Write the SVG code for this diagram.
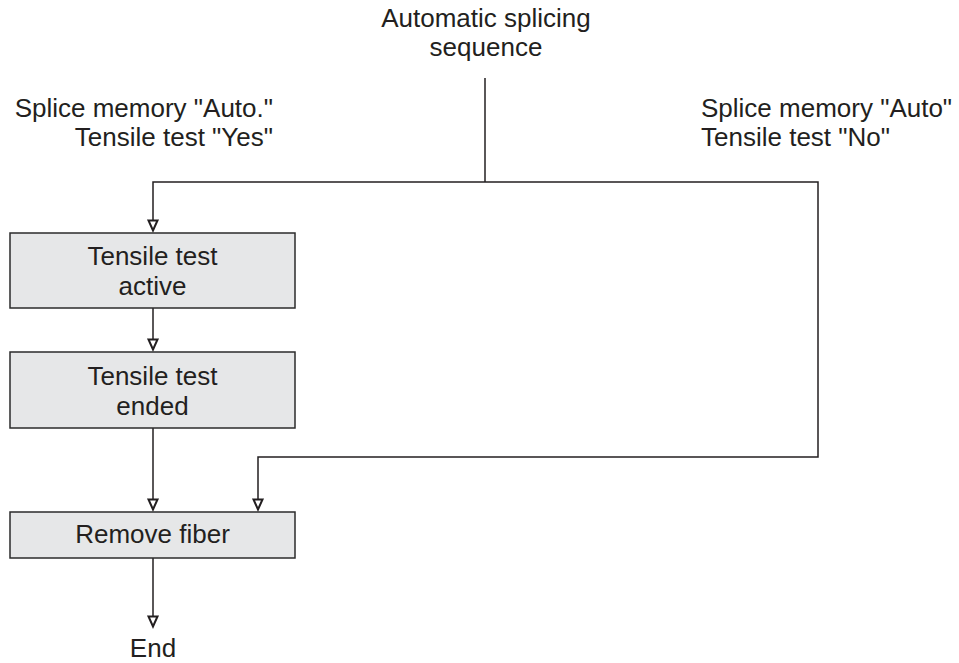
<svg xmlns="http://www.w3.org/2000/svg" width="959" height="663" viewBox="0 0 959 663">
<style>
text{font-family:"Liberation Sans",Arial,Helvetica,sans-serif;font-size:26px;fill:#231f20}
.c{text-anchor:middle}
.box{fill:#e6e7e8;stroke:#2b2b2b;stroke-width:1.5}
.ln{fill:none;stroke:#231f20;stroke-width:1.5}
.ah{fill:#fff;stroke:#231f20;stroke-width:2;stroke-linejoin:miter}
</style>
<rect width="959" height="663" fill="#fff"/>
<g id="labels">
<text class="c" x="486" y="27">Automatic splicing</text>
<text class="c" x="486" y="56">sequence</text>
<text x="273" y="117" text-anchor="end">Splice memory "Auto."</text>
<text x="273" y="146" text-anchor="end">Tensile test "Yes"</text>
<text x="701" y="117">Splice memory "Auto"</text>
<text x="701" y="146">Tensile test "No"</text>
</g>
<g id="connectors">
<polyline class="ln" points="485,78 485,182"/>
<polyline class="ln" points="153,221 153,182 818,182 818,457 258,457 258,499"/>
<line class="ln" x1="153" y1="308" x2="153" y2="340"/>
<line class="ln" x1="153" y1="428" x2="153" y2="499"/>
<line class="ln" x1="153" y1="558" x2="153" y2="616"/>
<polygon class="ah" points="148.5,220.5 157.5,220.5 153,230.5"/>
<polygon class="ah" points="148.5,339.5 157.5,339.5 153,349.5"/>
<polygon class="ah" points="148.5,499.5 157.5,499.5 153,509.5"/>
<polygon class="ah" points="253.5,499.5 262.5,499.5 258,509.5"/>
<polygon class="ah" points="148.5,616.5 157.5,616.5 153,626.5"/>
</g>
<g id="n1">
<rect class="box" x="10" y="233" width="285" height="75"/>
<text class="c" x="152.5" y="265">Tensile test</text>
<text class="c" x="152.5" y="295">active</text>
</g>
<g id="n2">
<rect class="box" x="10" y="352" width="285" height="76"/>
<text class="c" x="152.5" y="385">Tensile test</text>
<text class="c" x="152.5" y="415">ended</text>
</g>
<g id="n3">
<rect class="box" x="10" y="512" width="285" height="46"/>
<text class="c" x="152.5" y="543">Remove fiber</text>
</g>
<g id="end">
<text class="c" x="153" y="657">End</text>
</g>
</svg>
